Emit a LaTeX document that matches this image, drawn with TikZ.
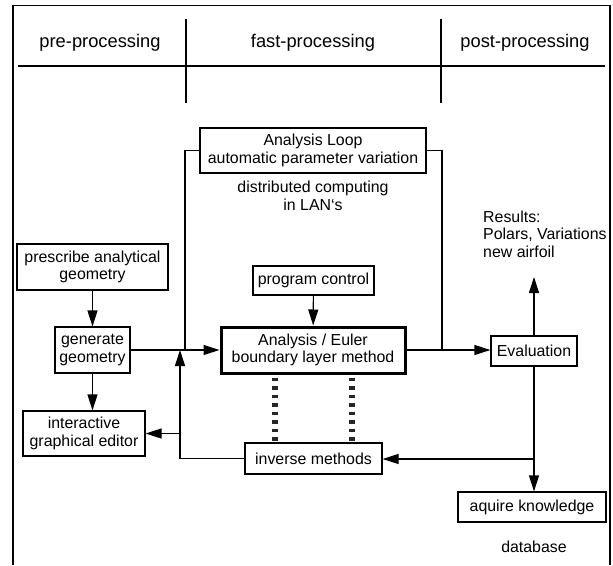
\documentclass[tikz,border=0pt]{standalone}
\usepackage{fontspec}
\setmainfont{Liberation Sans}
\usetikzlibrary{arrows.meta}
\begin{document}
\begin{tikzpicture}[x=1pt,y=-1pt,
  every node/.style={font=\fontsize{15.9}{17.5}\selectfont},
  box/.style={draw, line width=1.2pt, inner sep=0pt, align=center},
  thickbox/.style={box, line width=3pt},
  hdr/.style={font=\fontsize{18.3}{20}\selectfont, anchor=base, inner sep=0pt},
  lbl/.style={inner sep=0pt, align=center},
  ln/.style={line width=1.2pt},
  frameln/.style={line width=1.5pt},
  arr/.style={ln, -{Triangle[length=16pt,width=10pt]}},
  dots/.style={line width=6.5pt, dash pattern=on 3.5pt off 5pt, color=black!85}]
\useasboundingbox (0,0) rectangle (613,565);

% frame and header
\draw[frameln] (13,565) -- (13,5.5) -- (610,5.5) -- (610,565);
\draw[frameln] (18,66) -- (605,66);
\draw[frameln] (186,19) -- (186,103);
\draw[frameln] (441,19) -- (441,103);
\node[hdr] (hpre) at (100,47) {pre-processing};
\node[hdr] (hfast) at (313,47) {fast-processing};
\node[hdr] (hpost) at (525,47) {post-processing};

% boxes
\node[box, minimum width=226pt, minimum height=45pt] (loop) at (313,150.5) {Analysis Loop\\automatic parameter variation};
\node[lbl, anchor=north] (dist) at (313,181) {distributed computing\\in LAN‘s};
\node[box, minimum width=151pt, minimum height=46pt] (prescribe) at (92.5,267) {prescribe analytical\\geometry};
\node[box, minimum width=75pt, minimum height=46pt] (generate) at (92.5,350) {generate\\geometry};
\node[box, minimum width=122pt, minimum height=45pt] (interactive) at (84,433.5) {interactive\\graphical editor};
\node[box, minimum width=121pt, minimum height=29pt] (prog) at (313.5,280.5) {program control};
\node[thickbox, minimum width=184pt, minimum height=46pt] (analysis) at (313,350) {Analysis / Euler\\boundary layer method};
\node[box, minimum width=86pt, minimum height=30pt] (eval) at (534,351) {Evaluation};
\node[box, minimum width=137pt, minimum height=31pt] (inverse) at (313.5,458.5) {inverse methods};
\node[box, minimum width=148pt, minimum height=30pt] (aquire) at (532,507) {aquire knowledge};
\node[lbl, anchor=north west, align=left] (results) at (483,210.5) {Results:\\Polars, Variations\\new airfoil};
\node[lbl, anchor=base] (db) at (534,552) {database};

% junction coordinates
\coordinate (jl) at (185,350);
\coordinate (jr) at (442,350);
\coordinate (restip) at (534,277);
\coordinate (jb) at (534,459);
\coordinate (jf) at (180,350);
\coordinate (jf2) at (180,433.5);

% connectors
\draw[arr] (prescribe) -- (generate);
\draw[arr] (generate.south) -- (generate.south |- interactive.north);
\draw[arr] (generate) -- (analysis);
\draw[ln] (loop.west) -| (jl);
\draw[ln] (loop.east) -| (jr);
\draw[arr] (prog) -- (analysis);
\draw[arr] (analysis.east) -- (analysis.east -| eval.west);
\draw[arr] (eval.north) -- (restip);
\draw[arr] (eval.south) -- (eval.south |- aquire.north);
\draw[arr] (jb) -- (jb -| inverse.east);
\draw[arr] (inverse.west) -| (jf);
\draw[arr] (jf2) -- (jf2 -| interactive.east);
\draw[dots] ([xshift=-38pt,yshift=-3pt]analysis.south) -- ([xshift=-38pt]analysis.south |- inverse.north);
\draw[dots] ([xshift=39pt,yshift=-3pt]analysis.south) -- ([xshift=39pt]analysis.south |- inverse.north);
\end{tikzpicture}
\end{document}
